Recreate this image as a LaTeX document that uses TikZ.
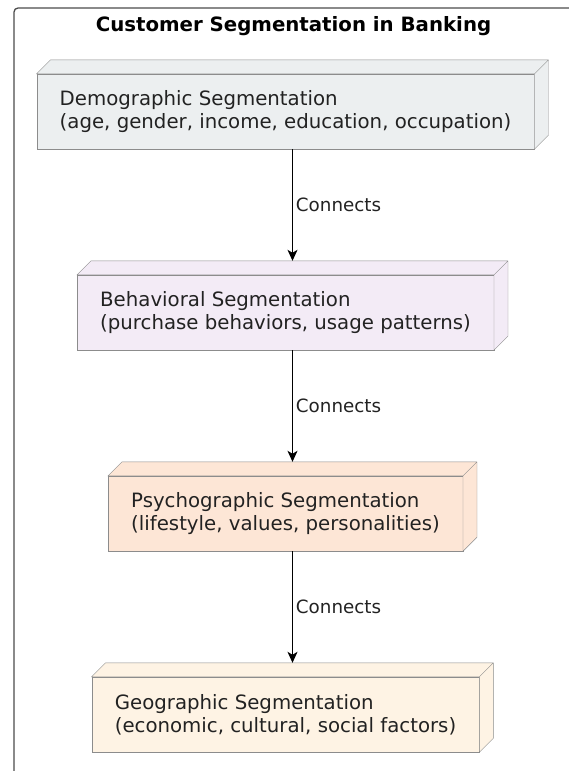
\documentclass[tikz,border=0pt]{standalone}
\usepackage{fontspec}
\setmainfont{DejaVu Sans}
\usetikzlibrary{calc,arrows.meta}

\definecolor{demofill}{HTML}{ECEFF0}
\definecolor{behavfill}{HTML}{F3EBF6}
\definecolor{psychofill}{HTML}{FDE6D6}
\definecolor{geofill}{HTML}{FEF3E4}
\definecolor{segline}{HTML}{8C8C8C}
\definecolor{segtext}{HTML}{222222}

\tikzset{%
  seg box/.style={
    rectangle,
    draw=segline,
    text=segtext,
    align=left,
    inner xsep=23pt,
    minimum height=75pt,
    font=\fontsize{19.75}{23}\selectfont
  },
  seg edge/.style={
    draw=segline,
    line join=miter
  },
  link/.style={
    draw=black,
    line width=0.9pt,
    -{Stealth[length=11pt,width=10pt,inset=3pt]}
  },
  link label/.style={
    text=segtext,
    inner xsep=3pt,
    font=\fontsize{18.3}{21}\selectfont
  },
}

\begin{document}
\begin{tikzpicture}[x=1pt, y=1pt]
    \useasboundingbox (0,0) rectangle (569,-771);
        \draw [draw=black!70, line width=1.3pt, rounded corners=4pt] (14,-775) -- (14,-8) -- (575,-8);
        \node [font=\bfseries\fontsize{19.75}{23}\selectfont, text=black, anchor=base] (title) at (293.5,-31) {Customer Segmentation in Banking};
        \foreach \n/\c/\t [count=\i from 0] in {
            {demo/demofill/Demographic Segmentation\\(age, gender, income, education, occupation)},
            {behav/behavfill/Behavioral Segmentation\\(purchase behaviors, usage patterns)},
            {psycho/psychofill/Psychographic Segmentation\\(lifestyle, values, personalities)},
            {geo/geofill/Geographic Segmentation\\(economic, cultural, social factors)}}
          \node [seg box, fill=\c] (\n) at (285.5,-111.5-\i*201) {\t};
        \foreach \n/\c in {demo/demofill, behav/behavfill, psycho/psychofill, geo/geofill}
          \draw [seg edge, fill=\c] (\n.north west) -- ++(14,14) -- ($(\n.north east)+(14,14)$)
            -- ($(\n.south east)+(14,14)$) -- (\n.south east) -- (\n.north east) -- cycle
            (\n.north east) -- ++(14,14);
        \foreach \a/\b in {demo/behav, behav/psycho, psycho/geo}
          \draw [link] ($(\a.south)+(7,0)$) -- ($(\b.north)+(7,14)$)
            node [midway, right, link label] {Connects};
    \end{tikzpicture}
\end{document}
